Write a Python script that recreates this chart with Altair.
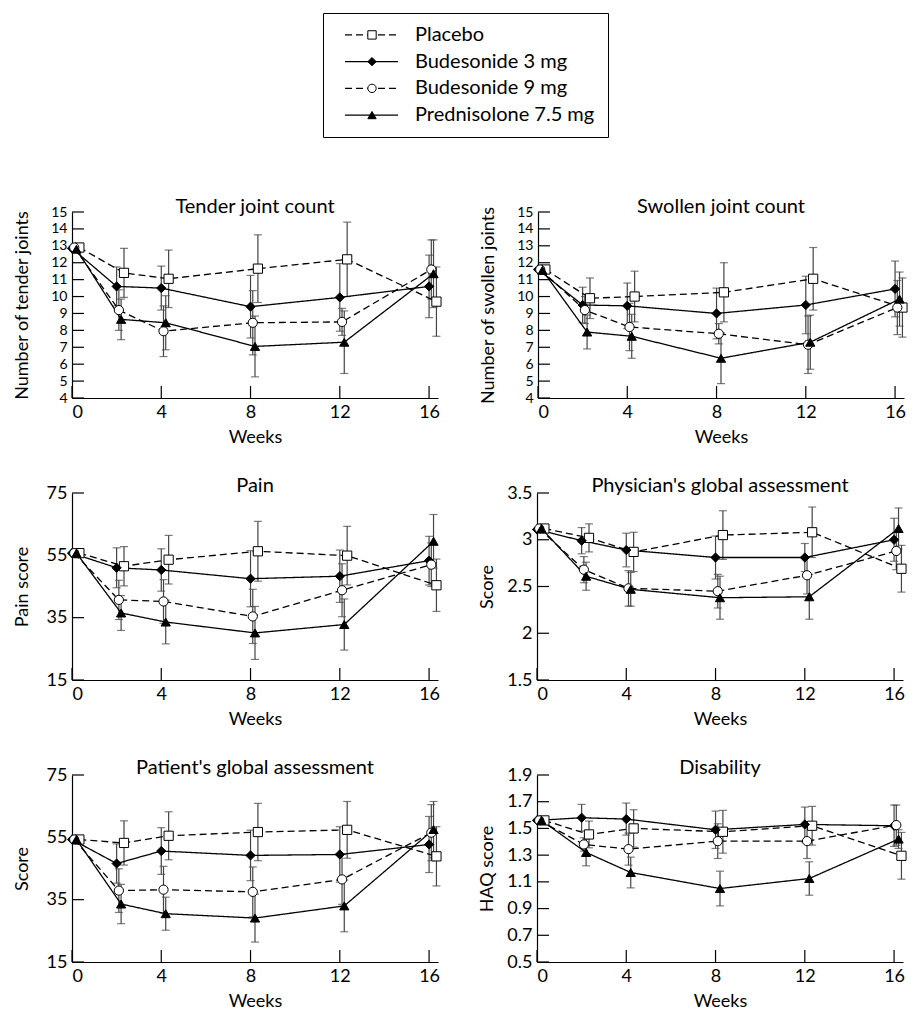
import altair as alt
import pandas as pd

FONT = "Lato"

WEEKS = [0, 2, 4, 8, 12, 16]
SERIES = ["Placebo", "Budesonide 3 mg", "Budesonide 9 mg", "Prednisolone 7.5 mg"]
OFFSET = [0.33, 0.0, 0.1, 0.2]
SHAPES = ["square", "diamond", "circle", "triangle-up"]
FILLS = ["white", "black", "white", "black"]
DASHES = [[7, 4], [1, 0], [7, 4], [1, 0]]
X_TICKS = [0, 4, 8, 12, 16]

# order of inner lists: Placebo, Budesonide 3 mg, Budesonide 9 mg, Prednisolone 7.5 mg
tender_mean = [[12.9, 11.4, 11.05, 11.65, 12.2, 9.7],
               [12.85, 10.6, 10.5, 9.4, 9.95, 10.6],
               [12.9, 9.2, 7.95, 8.45, 8.5, 11.6],
               [12.8, 8.65, 8.45, 7.05, 7.3, 11.35]]
tender_se = [[0, 1.45, 1.7, 2.0, 2.2, 2.05],
             [0, 1.15, 1.3, 1.85, 2.0, 1.85],
             [0, 1.2, 1.5, 1.9, 0.8, 1.75],
             [0, 1.2, 1.6, 1.8, 1.85, 2.0]]
tender_ticks = [4, 5, 6, 7, 8, 9, 10, 11, 12, 13, 14, 15]

swollen_mean = [[11.6, 9.9, 10.0, 10.25, 11.05, 9.35],
                [11.6, 9.5, 9.45, 9.0, 9.5, 10.45],
                [11.6, 9.2, 8.2, 7.8, 7.15, 9.35],
                [11.55, 7.9, 7.65, 6.35, 7.3, 9.85]]
swollen_se = [[0, 1.2, 1.5, 1.75, 1.85, 1.75],
              [0, 1.05, 1.35, 1.5, 1.7, 1.65],
              [0, 0.8, 1.4, 0.6, 1.7, 1.6],
              [0, 1.0, 1.3, 1.5, 1.6, 1.6]]
swollen_ticks = [4, 5, 6, 7, 8, 9, 10, 11, 12, 13, 14, 15]

pain_mean = [[55.7, 51.5, 53.6, 56.3, 54.9, 45.4],
             [55.7, 51.0, 50.3, 47.5, 48.3, 53.3],
             [55.7, 40.7, 40.2, 35.4, 43.8, 52.0],
             [55.7, 36.5, 33.6, 30.1, 32.8, 59.5]]
pain_se = [[0, 6.3, 7.8, 9.6, 9.4, 8.4],
           [0, 6.4, 6.8, 9.0, 8.4, 7.8],
           [0, 6.3, 7.0, 8.7, 8.5, 7.0],
           [0, 5.6, 7.0, 8.5, 8.2, 8.6]]
pain_ticks = [15, 35, 55, 75]

phys_mean = [[3.12, 3.02, 2.87, 3.05, 3.08, 2.69],
             [3.11, 2.99, 2.89, 2.81, 2.81, 3.0],
             [3.12, 2.68, 2.48, 2.45, 2.62, 2.88],
             [3.12, 2.61, 2.47, 2.38, 2.39, 3.12]]
phys_se = [[0, 0.15, 0.21, 0.26, 0.27, 0.25],
           [0, 0.14, 0.18, 0.23, 0.15, 0.23],
           [0, 0.14, 0.19, 0.18, 0.2, 0.2],
           [0, 0.15, 0.18, 0.23, 0.24, 0.22]]
phys_ticks = [1.5, 2, 2.5, 3, 3.5]

patient_mean = [[54.3, 53.2, 55.5, 56.7, 57.4, 48.9],
                [54.3, 46.6, 50.6, 49.2, 49.5, 52.7],
                [54.3, 37.9, 38.2, 37.5, 41.5, 56.5],
                [54.3, 33.6, 30.5, 29.1, 33.0, 57.5]]
patient_se = [[0, 7.1, 7.7, 9.2, 9.1, 9.5],
              [0, 6.3, 7.5, 8.1, 8.9, 9.0],
              [0, 7.0, 7.5, 8.0, 8.0, 9.0],
              [0, 6.3, 5.3, 7.7, 8.3, 9.0]]
patient_ticks = [15, 35, 55, 75]

haq_mean = [[1.56, 1.455, 1.50, 1.475, 1.52, 1.295],
            [1.56, 1.58, 1.57, 1.49, 1.53, 1.52],
            [1.56, 1.38, 1.345, 1.405, 1.405, 1.525],
            [1.56, 1.32, 1.17, 1.05, 1.125, 1.42]]
haq_se = [[0, 0.1, 0.14, 0.16, 0.145, 0.175],
          [0, 0.10, 0.12, 0.14, 0.13, 0.155],
          [0, 0.05, 0.12, 0.13, 0.13, 0.15],
          [0, 0.1, 0.115, 0.13, 0.125, 0.07]]
haq_ticks = [0.5, 0.7, 0.9, 1.1, 1.3, 1.5, 1.7, 1.9]

PANELS = [
    ("tender", "Tender joint count", "Number of tender joints", tender_mean, tender_se, tender_ticks),
    ("swollen", "Swollen joint count", "Number of swollen joints", swollen_mean, swollen_se, swollen_ticks),
    ("pain", "Pain", "Pain score", pain_mean, pain_se, pain_ticks),
    ("phys", "Physician's global assessment", "Score", phys_mean, phys_se, phys_ticks),
    ("patient", "Patient's global assessment", "Score", patient_mean, patient_se, patient_ticks),
    ("haq", "Disability", "HAQ score", haq_mean, haq_se, haq_ticks),
]

rows = []
for key, title, ytitle, means, ses, ticks in PANELS:
    for si, s in enumerate(SERIES):
        for wi, w in enumerate(WEEKS):
            m = means[si][wi]
            e = ses[si][wi]
            rows.append(dict(panel=key, series=s, week=w, x=w + OFFSET[si],
                             value=m, lo=m - e, hi=m + e, err=e))
df = pd.DataFrame(rows)

shape_enc = alt.Shape("series:N", scale=alt.Scale(domain=SERIES, range=SHAPES), legend=None)
fill_enc = alt.Fill("series:N", scale=alt.Scale(domain=SERIES, range=FILLS), legend=None)
dash_enc = alt.StrokeDash("series:N", scale=alt.Scale(domain=SERIES, range=DASHES), legend=None)

ERR_COLOR = "#444444"
PW = 366
TICK_LEN = 12


def panel(key, title, ytitle, ticks, ph, label_size):
    d = df[df.panel == key]
    base = alt.Chart(d)
    xaxis = alt.Axis(values=X_TICKS, title="Weeks", labelExpr="datum.value + ''", ticks=False,
                     labelPadding=5, titleY=30, labelOverlap=False)
    yaxis = alt.Axis(values=ticks, title=ytitle, labelExpr="datum.value + ''", ticks=False,
                     labelPadding=5, titleX=-41, labelOverlap=False, labelFontSize=label_size)
    xs = alt.Scale(domain=[0, 16.4], nice=False, zero=False)
    ys = alt.Scale(domain=[ticks[0], ticks[-1]], nice=False, zero=False)
    x = alt.X("x:Q", scale=xs, axis=xaxis)

    ytick_df = pd.DataFrame({"t": ticks})
    xtick_df = pd.DataFrame({"t": X_TICKS})
    yt = alt.Chart(ytick_df).mark_rule(color="black", strokeWidth=1.2).encode(
        y=alt.Y("t:Q", scale=ys, axis=yaxis), x=alt.value(0), x2=alt.value(TICK_LEN))
    xt = alt.Chart(xtick_df).mark_rule(color="black", strokeWidth=1.2).encode(
        x=alt.X("t:Q", scale=xs, axis=xaxis), y=alt.value(ph), y2=alt.value(ph - TICK_LEN))

    errs = base.transform_filter("datum.err > 0")
    bars = errs.mark_rule(color=ERR_COLOR, strokeWidth=1.2).encode(
        x=x, y=alt.Y("lo:Q", scale=ys, axis=yaxis), y2="hi:Q")
    cap_lo = errs.mark_tick(orient="horizontal", size=8, thickness=1.2, color=ERR_COLOR).encode(
        x=x, y=alt.Y("lo:Q", scale=ys, axis=yaxis))
    cap_hi = errs.mark_tick(orient="horizontal", size=8, thickness=1.2, color=ERR_COLOR).encode(
        x=x, y=alt.Y("hi:Q", scale=ys, axis=yaxis))
    lines = base.mark_line(color="black", strokeWidth=1.3).encode(
        x=x, y=alt.Y("value:Q", scale=ys, axis=yaxis), detail="series:N", strokeDash=dash_enc)
    pts = base.mark_point(filled=True, size=85, stroke="black", strokeWidth=1, opacity=1).encode(
        x=x, y=alt.Y("value:Q", scale=ys, axis=yaxis), shape=shape_enc, fill=fill_enc)
    return alt.layer(yt, xt, bars, cap_lo, cap_hi, lines, pts).properties(
        width=PW, height=ph,
        title=alt.TitleParams(title, font=FONT, fontSize=20, fontWeight="normal", color="black",
                              anchor="middle", frame="group", offset=-12))


HEIGHTS = [186, 186, 187, 187, 187, 187]
LSIZES = [14, 14, 18, 18, 18, 18]
panels = [panel(p[0], p[1], p[2], p[5], HEIGHTS[i], LSIZES[i]) for i, p in enumerate(PANELS)]
grid = alt.vconcat(
    alt.hconcat(panels[0], panels[1], spacing=34),
    alt.hconcat(panels[2], panels[3], spacing=34),
    alt.hconcat(panels[4], panels[5], spacing=34),
    spacing=30,
)

leg_df = pd.DataFrame({"series": SERIES})
leg_y = alt.Y("series:N", sort=SERIES, scale=alt.Scale(type="point", padding=0.82), axis=None)
leg_line = alt.Chart(leg_df).mark_rule(color="black", strokeWidth=1.2).encode(
    x=alt.value(22), x2=alt.value(75), y=leg_y, strokeDash=dash_enc)
leg_pt = alt.Chart(leg_df).mark_point(filled=True, size=70, stroke="black", strokeWidth=1, opacity=1).encode(
    x=alt.value(49), y=leg_y, shape=shape_enc, fill=fill_enc)
leg_txt = alt.Chart(leg_df).mark_text(align="left", baseline="middle", font=FONT, fontSize=20,
                                      color="black").encode(
    x=alt.value(92), y=leg_y, text="series:N")
legend = alt.layer(leg_line, leg_pt, leg_txt).properties(
    width=285, height=124, view=alt.ViewBackground(stroke="black", strokeWidth=1))
spacer = alt.Chart(leg_df).mark_point(opacity=0).properties(width=250, height=124)
legend_row = alt.hconcat(spacer, legend, spacing=0)

chart = alt.vconcat(legend_row, grid, spacing=59).properties(
    padding={"left": 4, "top": 4, "right": 0, "bottom": 0}
).configure(font=FONT).configure_view(stroke=None).configure_axis(
    labelFont=FONT, titleFont=FONT, labelFontSize=18, titleFontSize=18, titleFontWeight="normal",
    labelColor="black", titleColor="black", domainColor="black", grid=False,
    domainWidth=1.2)

chart.save("out.html", embed_options={"renderer": "svg", "actions": False})
